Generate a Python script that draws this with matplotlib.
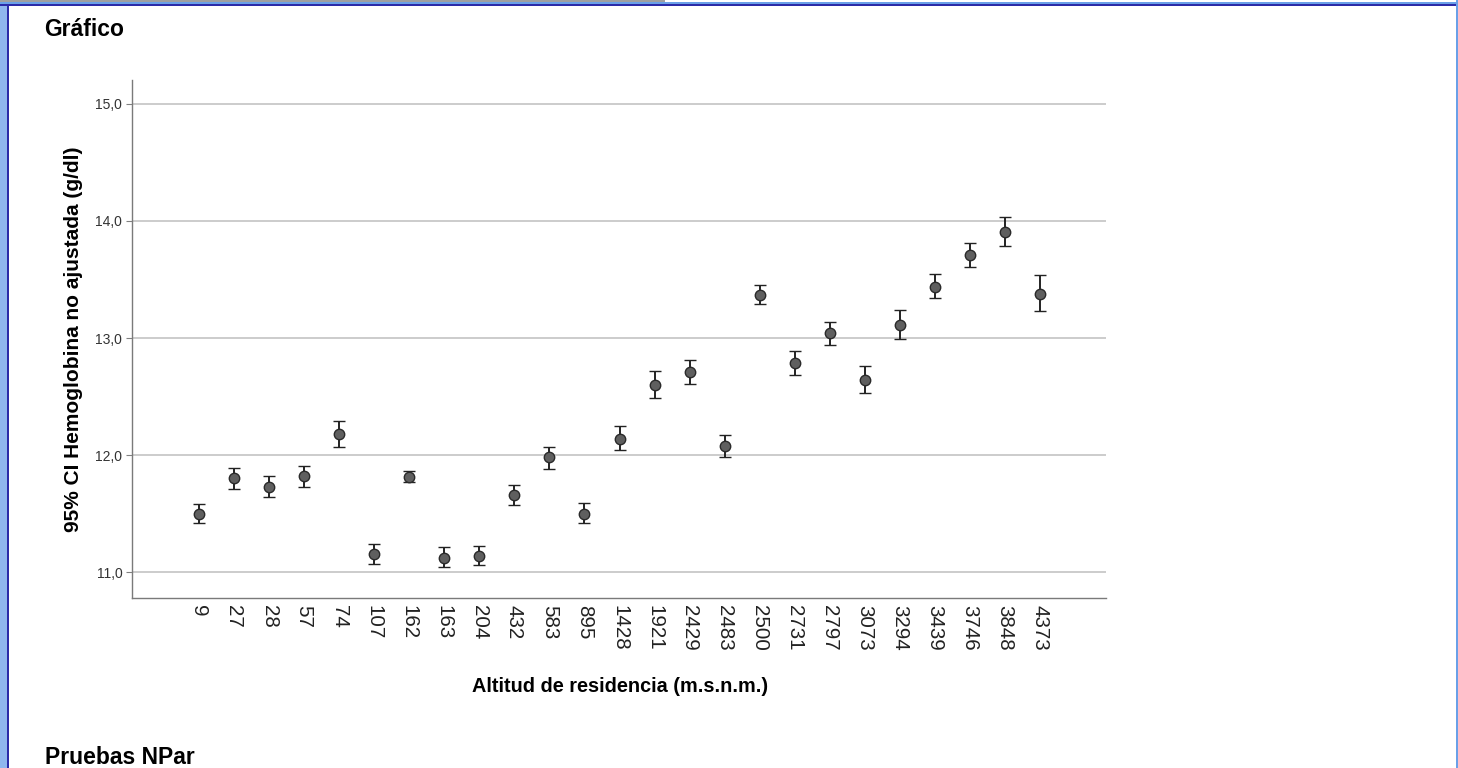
import numpy as np
import matplotlib
matplotlib.use("Agg")
import matplotlib.pyplot as plt
from matplotlib.patches import Rectangle

plt.rcParams["font.family"] = ["Liberation Sans", "DejaVu Sans"]

# altitud de residencia (categorias) y IC 95% de la hemoglobina
altitud = ["9", "27", "28", "57", "74", "107", "162", "163", "204", "432",
           "583", "895", "1428", "1921", "2429", "2483", "2500", "2731",
           "2797", "3073", "3294", "3439", "3746", "3848", "4373"]
media = [11.50, 11.80, 11.73, 11.82, 12.18, 11.15, 11.81, 11.12, 11.14, 11.66,
         11.98, 11.50, 12.14, 12.60, 12.71, 12.08, 13.37, 12.79,
         13.04, 12.64, 13.11, 13.44, 13.71, 13.91, 13.38]
ic_inf = [11.42, 11.71, 11.64, 11.73, 12.07, 11.07, 11.77, 11.04, 11.06, 11.57,
          11.88, 11.42, 12.04, 12.49, 12.61, 11.98, 13.29, 12.68,
          12.94, 12.53, 12.99, 13.34, 13.61, 13.79, 13.23]
ic_sup = [11.58, 11.89, 11.82, 11.91, 12.29, 11.24, 11.86, 11.21, 11.22, 11.74,
          12.07, 11.59, 12.25, 12.72, 12.81, 12.17, 13.45, 12.89,
          13.14, 12.76, 13.24, 13.55, 13.81, 14.03, 13.54]
yticks = [11.0, 12.0, 13.0, 14.0, 15.0]

x = np.arange(len(altitud))
media = np.array(media)
err = [media - np.array(ic_inf), np.array(ic_sup) - media]

fig = plt.figure(figsize=(14.58, 7.68), dpi=100)
fig.patch.set_facecolor("white")
ax = fig.add_axes([132/1458, 170/768, 974/1458, 518/768])

for yt in yticks:
    ax.axhline(yt, color="#c8c8c8", lw=1.3, zorder=0)

ax.errorbar(x, media, yerr=err, fmt="o", color="black", ecolor="#222222",
            elinewidth=1.4, capsize=4, capthick=1.4, markersize=7.5,
            markerfacecolor="#5f5f5f", markeredgecolor="#2a2a2a",
            markeredgewidth=1, zorder=3)

ax.set_xlim(-1.91, 25.88)
ax.set_ylim(10.778, 15.205)
ax.set_yticks(yticks)
ax.set_yticklabels([f"{v:.1f}".replace(".", ",") for v in yticks],
                   fontsize=10, color="#333333")
ax.set_xticks(x)
ax.set_xticklabels(altitud, rotation=270, fontsize=14.8, color="#222222")
ax.tick_params(axis="x", length=0, pad=5)
ax.tick_params(axis="y", length=4, color="#808080", pad=3)

for s in ["top", "right"]:
    ax.spines[s].set_visible(False)
for s in ["left", "bottom"]:
    ax.spines[s].set_color("#7a7a7a")
    ax.spines[s].set_linewidth(1)

ax.set_ylabel("95% CI Hemoglobina no ajustada (g/dl)", fontsize=15, fontweight="bold")
ax.yaxis.set_label_coords(-0.050, 0.5)
ax.set_xlabel("Altitud de residencia (m.s.n.m.)", fontsize=14.3, fontweight="bold")
ax.xaxis.set_label_coords(0.501, -0.1525)

fig.text(44/1458, 1 - 30/768, "Gráfico", fontsize=16.5, fontweight="bold", va="center")
fig.text(45/1458, 1 - 757/768, "Pruebas NPar", fontsize=16.5, fontweight="bold", va="center")

# marco de la ventana
fig.add_artist(Rectangle((0, 0), 7/1458, 1, transform=fig.transFigure,
                         color="#8fb6ee", lw=0))
fig.add_artist(Rectangle((7/1458, 0), 2/1458, 1, transform=fig.transFigure,
                         color="#2b2ba8", lw=0))
fig.add_artist(Rectangle((0, 1 - 4/768), 1, 2/768, transform=fig.transFigure,
                         color="#6aa0e8", lw=0))
fig.add_artist(Rectangle((0, 1 - 6/768), 1, 2/768, transform=fig.transFigure,
                         color="#2b2ba8", lw=0))
fig.add_artist(Rectangle((0, 1 - 2/768), 665/1458, 2/768, transform=fig.transFigure,
                         color="#a0a0a0", lw=0))
fig.add_artist(Rectangle((1456/1458, 0), 2/1458, 1, transform=fig.transFigure,
                         color="#6aa0e8", lw=0))

fig.savefig("out.png", dpi=100)
